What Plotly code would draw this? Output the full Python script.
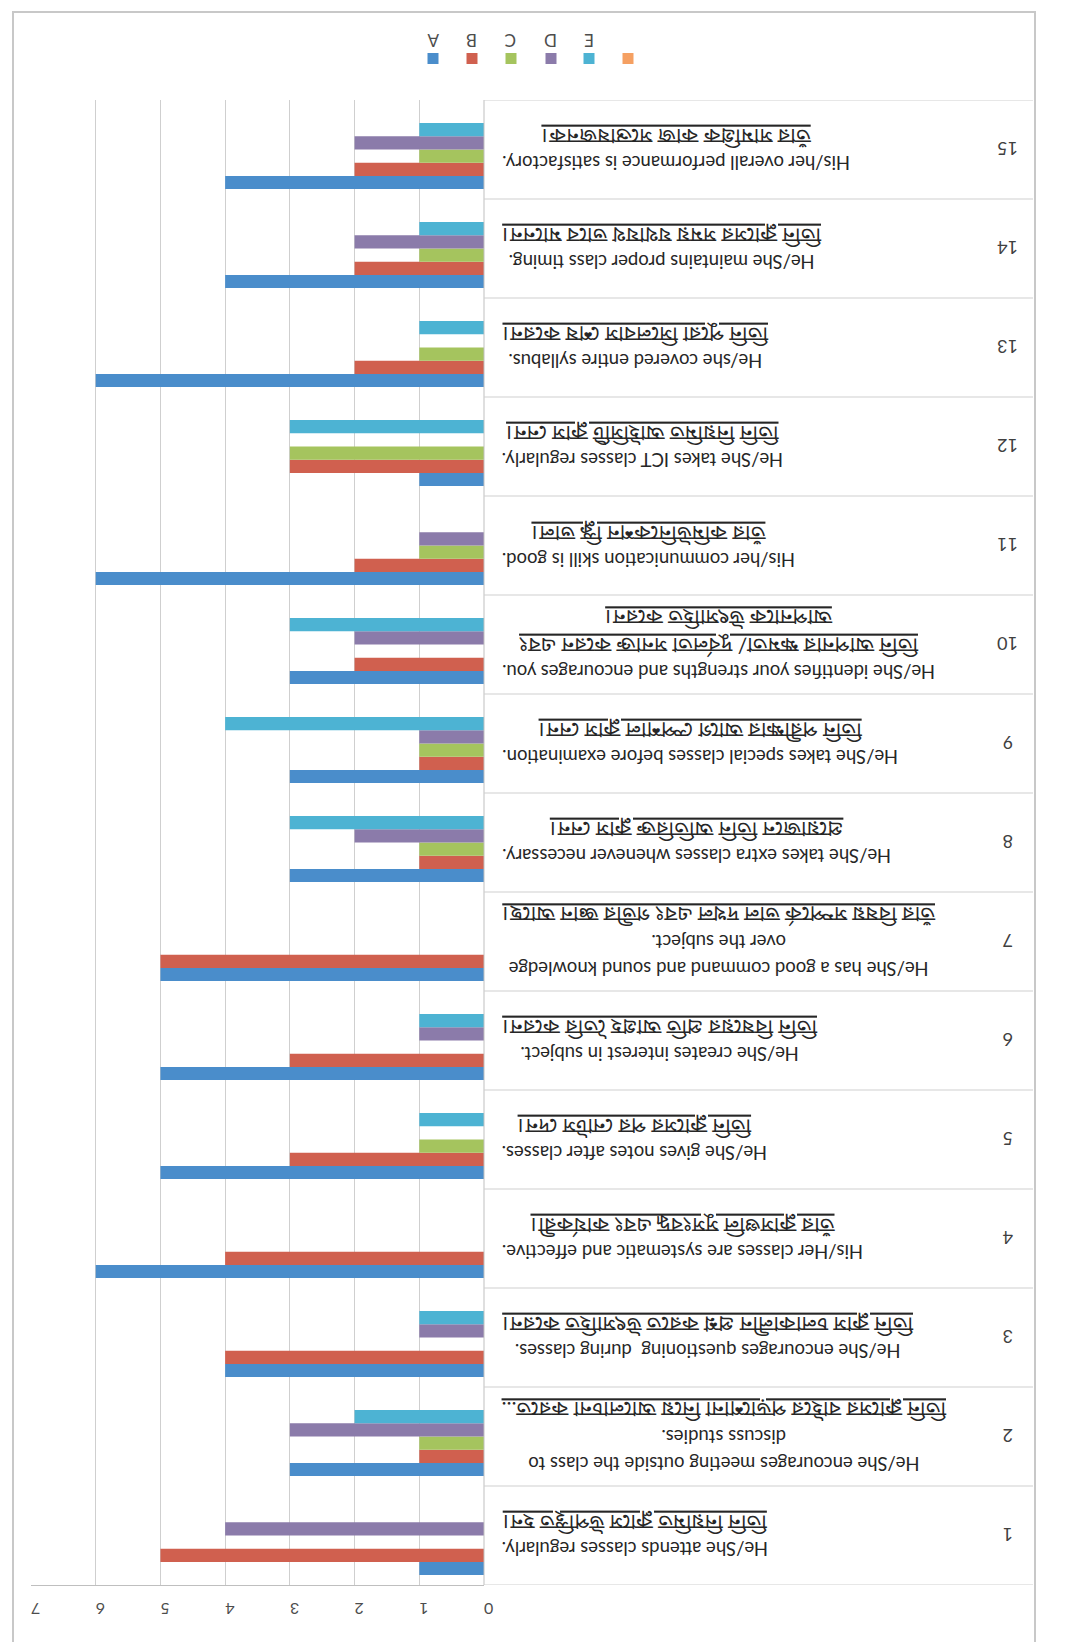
import plotly.graph_objects as go

# ---------------- data ----------------
categories = [str(i) for i in range(1, 16)]
series_names = ["A", "B", "C", "D", "E", ""]
A = [1, 3, 4, 6, 5, 5, 5, 3, 3, 3, 6, 1, 6, 4, 4]
B = [5, 1, 4, 4, 3, 3, 5, 1, 1, 2, 2, 3, 2, 2, 2]
C = [0, 1, 0, 0, 1, 0, 0, 1, 1, 0, 1, 3, 1, 1, 1]
D = [4, 3, 1, 0, 0, 1, 0, 2, 1, 2, 1, 0, 0, 2, 2]
E = [0, 2, 1, 0, 1, 1, 0, 3, 4, 3, 0, 3, 1, 1, 1]
F = [0] * 15
tick_values = [0, 1, 2, 3, 4, 5, 6, 7]
tick_labels = ["0", "1", "2", "3", "4", "5", "6", "7"]

question_en = [
    ["He/She attends classes regularly."],
    ["He/She encourages meeting outside the class to", "discuss studies."],
    ["He/She encourages questioning  during classes."],
    ["His/Her classes are systematic and effective."],
    ["He/She gives notes after classes."],
    ["He/She creates interest in subject."],
    ["He/She has a good command and sound knowledge", "over the subject."],
    ["He/She takes extra classes whenever necessary."],
    ["He/She takes special classes before examination."],
    ["He/She identifies your strengths and encourages you."],
    ["His/her communication skill is good."],
    ["He/She takes ICT classes regularly."],
    ["He/she covered entire syllabus."],
    ["He/She maintains proper class timing."],
    ["His/her overall performance is satisfactory."],
]
question_bn = [
    ["তিনি নিয়মিত ক্লাসে উপস্থিত হন।"],
    ["তিনি ক্লাসের বাইরে পড়াশোনা নিয়ে আলোচনা করতে..."],
    ["তিনি ক্লাস চলাকালীন প্রশ্ন করতে উৎসাহিত করেন।"],
    ["তাঁর ক্লাসগুলি সুসংবদ্ধ এবং কার্যকরী।"],
    ["তিনি ক্লাসের পর নোটস দেন।"],
    ["তিনি বিষয়ের প্রতি আগ্রহ তৈরি করেন।"],
    ["তাঁর বিষয় সম্পর্কে ভাল দখল এবং গভীর জ্ঞান আছে।"],
    ["প্রয়োজনে তিনি অতিরিক্ত ক্লাস নেন।"],
    ["তিনি পরীক্ষার আগে স্পেশাল ক্লাস নেন।"],
    ["তিনি আপনার ক্ষমতা/ দুর্বলতা সনাক্ত করেন এবং", "আপনাকে উৎসাহিত করেন।"],
    ["তাঁর কমিউনিকেশন স্কিল ভাল।"],
    ["তিনি নিয়মিত আইসিটি ক্লাস নেন।"],
    ["তিনি পুরো সিলেবাস শেষ করেন।"],
    ["তিনি ক্লাসের সময় যথাযথ ভাবে মানেন।"],
    ["তাঁর সামগ্রিক কাজ সন্তোষজনক।"],
]

colors = ["#4A8DCB", "#D0604F", "#A5C45E", "#8B7BAA", "#4DB3D3", "#F5A062"]

# ---------------- geometry helpers ----------------
W, H = 1077, 1642
L, R, T, Bm = 23, 1025, 92, 1577   # plot area in px
AX0 = 476                            # px of value-axis zero line


def px(xp):
    return (xp - L) / (R - L)


def py(yp):
    return (Bm - yp) / (Bm - T)


fig = go.Figure()
for name, vals, col in zip(series_names, [A, B, C, D, E, F], colors):
    fig.add_trace(go.Bar(
        y=categories, x=vals, name=name, orientation="h",
        marker=dict(color=col, line=dict(width=0)),
        showlegend=False,
    ))

fig.update_layout(
    width=W, height=H,
    margin=dict(l=L, r=W - R, t=T, b=H - Bm),
    paper_bgcolor="white", plot_bgcolor="white",
    barmode="group", bargap=0.2, bargroupgap=0,
    font=dict(family="Lato, Liberation Sans, sans-serif", color="#262626"),
    xaxis=dict(
        domain=[0, px(AX0)], range=[7, 0],
        tickvals=tick_values, ticktext=tick_labels, tickangle=180,
        tickfont=dict(size=16, color="#4d4d4d"),
        showgrid=True, gridcolor="#cfcfcf", gridwidth=1,
        zeroline=False, showline=True, linecolor="#bfbfbf",
        ticks="", ticklabelstandoff=14,
    ),
    yaxis=dict(
        type="category",
        categoryorder="array", categoryarray=categories,
        range=[-0.5, len(categories) - 0.5],
        showticklabels=False, showgrid=False, zeroline=False,
        showline=False, ticks="",
    ),
)

shapes = []
# axis line at zero (right of bars)
shapes.append(dict(type="line", xref="paper", yref="paper",
                   x0=px(AX0), x1=px(AX0), y0=0, y1=1,
                   line=dict(color="#bfbfbf", width=1)))
# category separators across label area
for k in range(len(categories) + 1):
    shapes.append(dict(type="line", xref="paper", yref="y",
                       x0=px(AX0), x1=1, y0=k - 0.5, y1=k - 0.5,
                       line=dict(color="#cfcfcf", width=1)))
# chart frame
shapes.append(dict(type="rect", xref="paper", yref="paper",
                   x0=px(5), x1=px(1027), y0=py(1637), y1=py(4),
                   line=dict(color="#c8c8c8", width=2), fillcolor="rgba(0,0,0,0)"))

annotations = []
for i, cat in enumerate(categories):
    en = "<br>".join('<span style="font-size:18.5px">%s</span>' % s for s in question_en[i])
    bn = "<br>".join('<u>%s</u>' % s for s in question_bn[i])
    txt = en + "<br>" + bn
    annotations.append(dict(
        xref="paper", yref="y", x=px(492), y=i,
        text=txt, textangle=180, showarrow=False,
        xanchor="left", yanchor="middle", align="center",
        font=dict(size=21, color="#262626",
                  family="Lato, Noto Sans Bengali, Lohit Bengali, FreeSans, sans-serif"),
    ))
    annotations.append(dict(
        xref="paper", yref="y", x=px(1000), y=i,
        text=cat, textangle=180, showarrow=False,
        xanchor="center", yanchor="middle",
        font=dict(size=18, color="#404040"),
    ))

# custom legend (rotated, like the scanned chart)
leg_x = [425, 464, 503, 543, 581, 620]
for name, col, xx in zip(series_names, colors, leg_x):
    shapes.append(dict(type="rect", xref="paper", yref="paper",
                       x0=px(xx - 5.5), x1=px(xx + 5.5), y0=py(56), y1=py(45),
                       line=dict(width=0), fillcolor=col))
    if name:
        annotations.append(dict(
            xref="paper", yref="paper", x=px(xx), y=py(32),
            text=name, textangle=180, showarrow=False,
            xanchor="center", yanchor="middle",
            font=dict(size=17, color="#4d4d4d"),
        ))

fig.update_layout(shapes=shapes, annotations=annotations)
fig.write_html("out.html")
